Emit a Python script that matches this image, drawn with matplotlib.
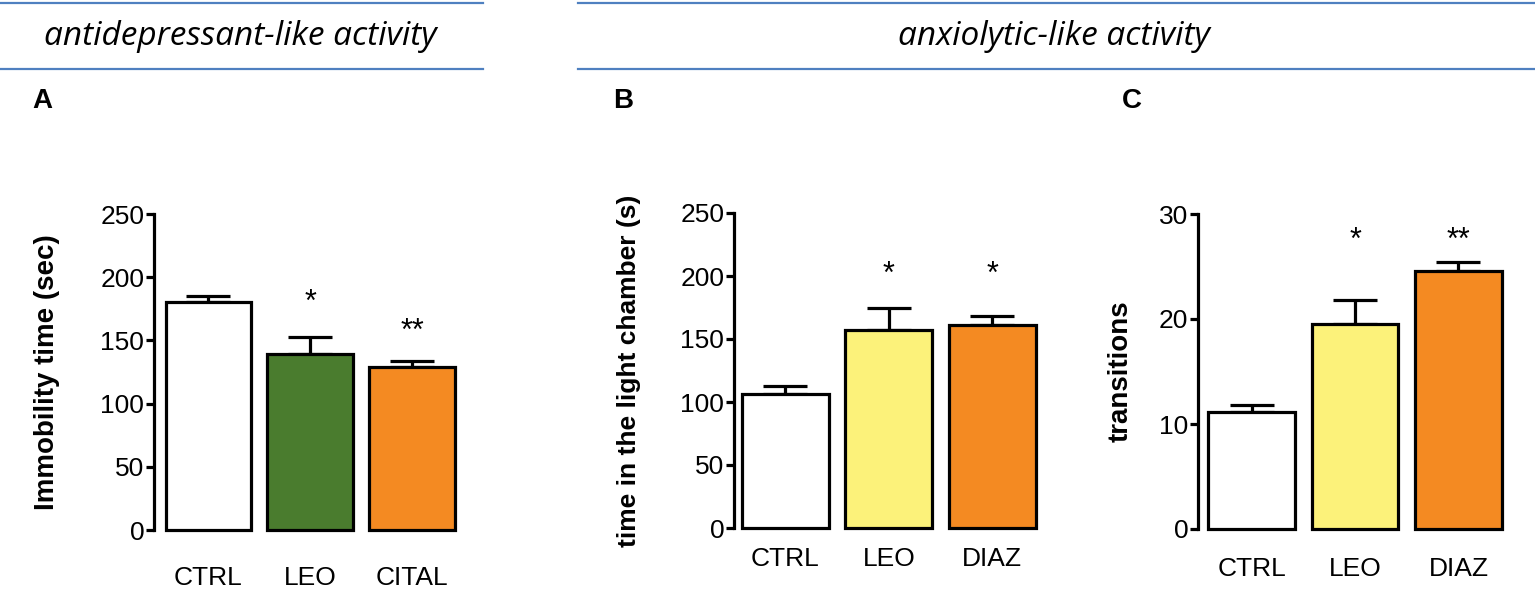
import matplotlib.pyplot as plt
from matplotlib.lines import Line2D

plt.rcParams['font.family'] = ['Liberation Sans', 'DejaVu Sans']

# panel A - forced swim
cats_a = ["CTRL", "LEO", "CITAL"]
mean_a = [180, 139.5, 129]
sem_a = [5, 13.5, 5]
stars_a = ["", "*", "**"]

# panel B - light/dark box, time in light
cats_b = ["CTRL", "LEO", "DIAZ"]
mean_b = [106, 157.5, 161]
sem_b = [6.5, 17.5, 7]
stars_b = ["", "*", "*"]

# panel C - light/dark box, transitions
cats_c = ["CTRL", "LEO", "DIAZ"]
mean_c = [11.1, 19.5, 24.6]
sem_c = [0.75, 2.3, 0.85]
stars_c = ["", "*", "**"]

WHITE = "#ffffff"
GREEN = "#4a7c2e"
ORANGE = "#f48a22"
YELLOW = "#fcf27a"
LINE_BLUE = "#4f80c0"

W, H = 1535, 594
fig = plt.figure(figsize=(W / 100, H / 100), dpi=100)


def px_axes(left, y0, width, height):
    # left / y0 (bottom edge measured from top) in pixels
    return fig.add_axes([left / W, (H - y0) / H, width / W, height / H])


def draw_panel(ax, cats, means, sems, stars, colors, ymax, yticks, ylabel,
               xlo, star_y, xpad, ypad, ysize):
    x = list(range(len(cats)))
    ax.bar(x, means, width=0.84, color=colors, edgecolor="black",
           linewidth=2.3, clip_on=False, zorder=3)
    lower = [0] * len(sems)
    ax.errorbar(x, means, yerr=[lower, sems], fmt="none", ecolor="black",
                elinewidth=2.3, capsize=16, capthick=2.3, zorder=2, clip_on=False)
    for xi, s in zip(x, stars):
        if s:
            ax.text(xi, star_y[xi], s, ha="center", va="center", fontsize=22)
    ax.set_xlim(xlo, 2.45)
    ax.set_ylim(0, ymax)
    ax.set_yticks(yticks)
    ax.set_xticks(x)
    ax.set_xticklabels(cats)
    for sp in ["top", "right", "bottom"]:
        ax.spines[sp].set_visible(False)
    ax.spines["left"].set_linewidth(2.3)
    ax.tick_params(axis="y", length=6, width=2.3, labelsize=19, pad=1)
    ax.tick_params(axis="x", length=0, labelsize=19, pad=xpad)
    ax.set_ylabel(ylabel, fontsize=ysize, fontweight="bold", labelpad=ypad)


ax_a = px_axes(154, 530, 304, 316)
draw_panel(ax_a, cats_a, mean_a, sem_a, stars_a, [WHITE, GREEN, ORANGE],
           250, [0, 50, 100, 150, 200, 250], "Immobility time (sec)",
           -0.534, [0, 180, 156.5], 26, 29, 20)

ax_b = px_axes(734, 528, 305, 315)
draw_panel(ax_b, cats_b, mean_b, sem_b, stars_b, [WHITE, YELLOW, ORANGE],
           250, [0, 50, 100, 150, 200, 250], "time in the light chamber (s)",
           -0.497, [0, 201, 201], 14, 28, 19)

ax_c = px_axes(1198, 529, 307, 315)
draw_panel(ax_c, cats_c, mean_c, sem_c, stars_c, [WHITE, YELLOW, ORANGE],
           30, [0, 10, 20, 30], "transitions",
           -0.518, [0, 27.4, 27.4], 20, 18, 20)

# header lines and section titles
for (x0, x1) in [(0, 483), (578, 1535)]:
    for yy in [3, 69]:
        fig.add_artist(Line2D([x0 / W, x1 / W], [1 - yy / H, 1 - yy / H],
                              color=LINE_BLUE, linewidth=1.6))

fig.text(240 / W, 1 - 45 / H, "antidepressant-like activity", ha="center",
         va="baseline", fontsize=24, style="italic",
         family=["Open Sans", "DejaVu Sans"])
fig.text(1054 / W, 1 - 45 / H, "anxiolytic-like activity", ha="center",
         va="baseline", fontsize=24, style="italic",
         family=["Open Sans", "DejaVu Sans"])

for lx, lab in [(42, "A"), (623, "B"), (1132, "C")]:
    fig.text(lx / W, 1 - 101 / H, lab, ha="center", va="center",
             fontsize=20, fontweight="bold")

fig.savefig("out.png", dpi=100)
